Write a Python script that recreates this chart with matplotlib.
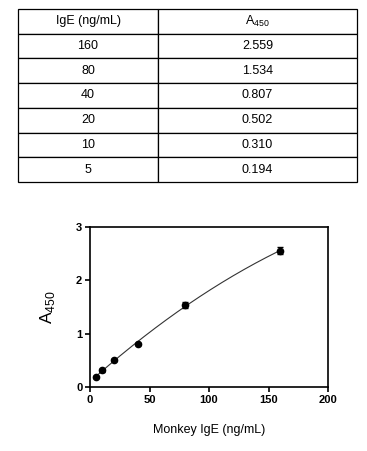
import numpy as np
import matplotlib.pyplot as plt

plt.rcParams['font.family'] = ['Liberation Sans', 'DejaVu Sans']
plt.rcParams['mathtext.fontset'] = 'custom'
plt.rcParams['mathtext.rm'] = 'Liberation Sans'

# data
conc = [160, 80, 40, 20, 10, 5]
a450 = [2.559, 1.534, 0.807, 0.502, 0.310, 0.194]
a450_err = [0.06, 0.06, 0.02, 0.02, 0.02, 0.02]
col_labels = ['IgE (ng/mL)', r'A$_{450}$']
cell_text = [[str(c), f'{v:.3f}'] for c, v in zip(conc, a450)]

fig = plt.figure(figsize=(3.67, 4.51), dpi=100)

# table on top
tax = fig.add_axes([18 / 367, 1 - 182 / 451, 339 / 367, 173 / 451])
tax.axis('off')
tbl = tax.table(cellText=cell_text, colLabels=col_labels, cellLoc='center',
                colWidths=[140 / 339, 199 / 339], bbox=[0, 0, 1, 1])
tbl.auto_set_font_size(False)
tbl.set_fontsize(9)
for cell in tbl.get_celld().values():
    cell.set_linewidth(0.9)
    cell.set_edgecolor('black')

# standard curve plot
ax = fig.add_axes([90 / 367, 64 / 451, 238 / 367, 160 / 451])
ax.errorbar(conc, a450, yerr=a450_err, fmt='o', color='black', ms=4.5,
            capsize=2, elinewidth=1, zorder=3)

# smooth fit through the points
coef = np.polyfit(conc, a450, 2)
xs = np.linspace(min(conc), max(conc), 200)
ax.plot(xs, np.polyval(coef, xs), color='#333333', lw=0.8)

ax.set_xlim(0, 200)
ax.set_ylim(0, 3)
ax.set_xticks([0, 50, 100, 150, 200])
ax.set_yticks([0, 1, 2, 3])
ax.tick_params(direction='out', length=3.5, width=1.2, labelsize=8, pad=2)
for lbl in ax.get_xticklabels() + ax.get_yticklabels():
    lbl.set_fontweight('bold')
for sp in ax.spines.values():
    sp.set_linewidth(1.2)

ax.set_xlabel('Monkey IgE (ng/mL)', fontsize=9, labelpad=14)
ax.set_ylabel(r'A$_{450}$', fontsize=12.5, labelpad=14)

fig.savefig('out.png', dpi=100)
